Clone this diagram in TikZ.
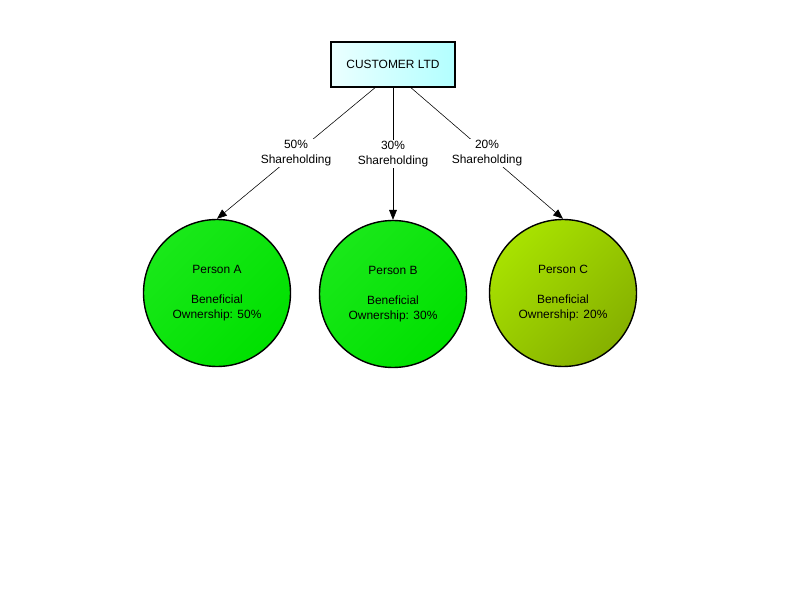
\documentclass[tikz,border=0pt]{standalone}
\usepackage{fontspec}
\setmainfont{Liberation Sans}
\usetikzlibrary{arrows.meta}

\tikzset{
    company/.style = {draw, line width = 1.2pt, minimum width = 3.1cm, minimum height = 1.125cm,
        left color = cyan!8, right color = cyan!30, font = \fontsize{8.5}{10.5}\selectfont},
    person/.style = {circle, draw, line width = 1pt, minimum size = 3.675cm, inner sep = 0pt,
        align = center, font = \fontsize{8.5}{10.6}\selectfont},
    greenfill/.style = {top color = green!90!black!90!white, bottom color = green!88!black, shading angle = 45},
    olivefill/.style = {top color = {rgb,255:red,168;green,226;blue,0},
        bottom color = {rgb,255:red,134;green,176;blue,0}, shading angle = 45},
    holding/.style = {-{Triangle[length = 7pt, width = 5.5pt]}},
    share/.style = {midway, fill = white, align = center, inner sep = 1pt,
        font = \fontsize{8.5}{10.5}\selectfont}
}

\begin{document}
\begin{tikzpicture}
    \useasboundingbox (0, 0) rectangle (20, 15);

    \node[company] (cust) at (9.825, 13.39) {CUSTOMER LTD};

    \node[person, greenfill] (pa) at (5.425, 7.675) {Person A\\ \\ Beneficial\\ Ownership: 50\%};
    \node[person, greenfill] (pb) at (9.825, 7.65) {Person B\\ \\ Beneficial\\ Ownership: 30\%};
    \node[person, olivefill] (pc) at (14.075, 7.675) {Person C\\ \\ Beneficial\\ Ownership: 20\%};

    \coordinate (outa) at ([xshift = -0.45cm]cust.south);
    \coordinate (outc) at ([xshift = 0.45cm]cust.south);

    \draw[holding] (outa) -- (pa.north) node[share]{50\%\\Shareholding};
    \draw[holding] (cust.south) -- (pb.north) node[share]{30\%\\Shareholding};
    \draw[holding] (outc) -- (pc.north) node[share]{20\%\\Shareholding};
\end{tikzpicture}
\end{document}
